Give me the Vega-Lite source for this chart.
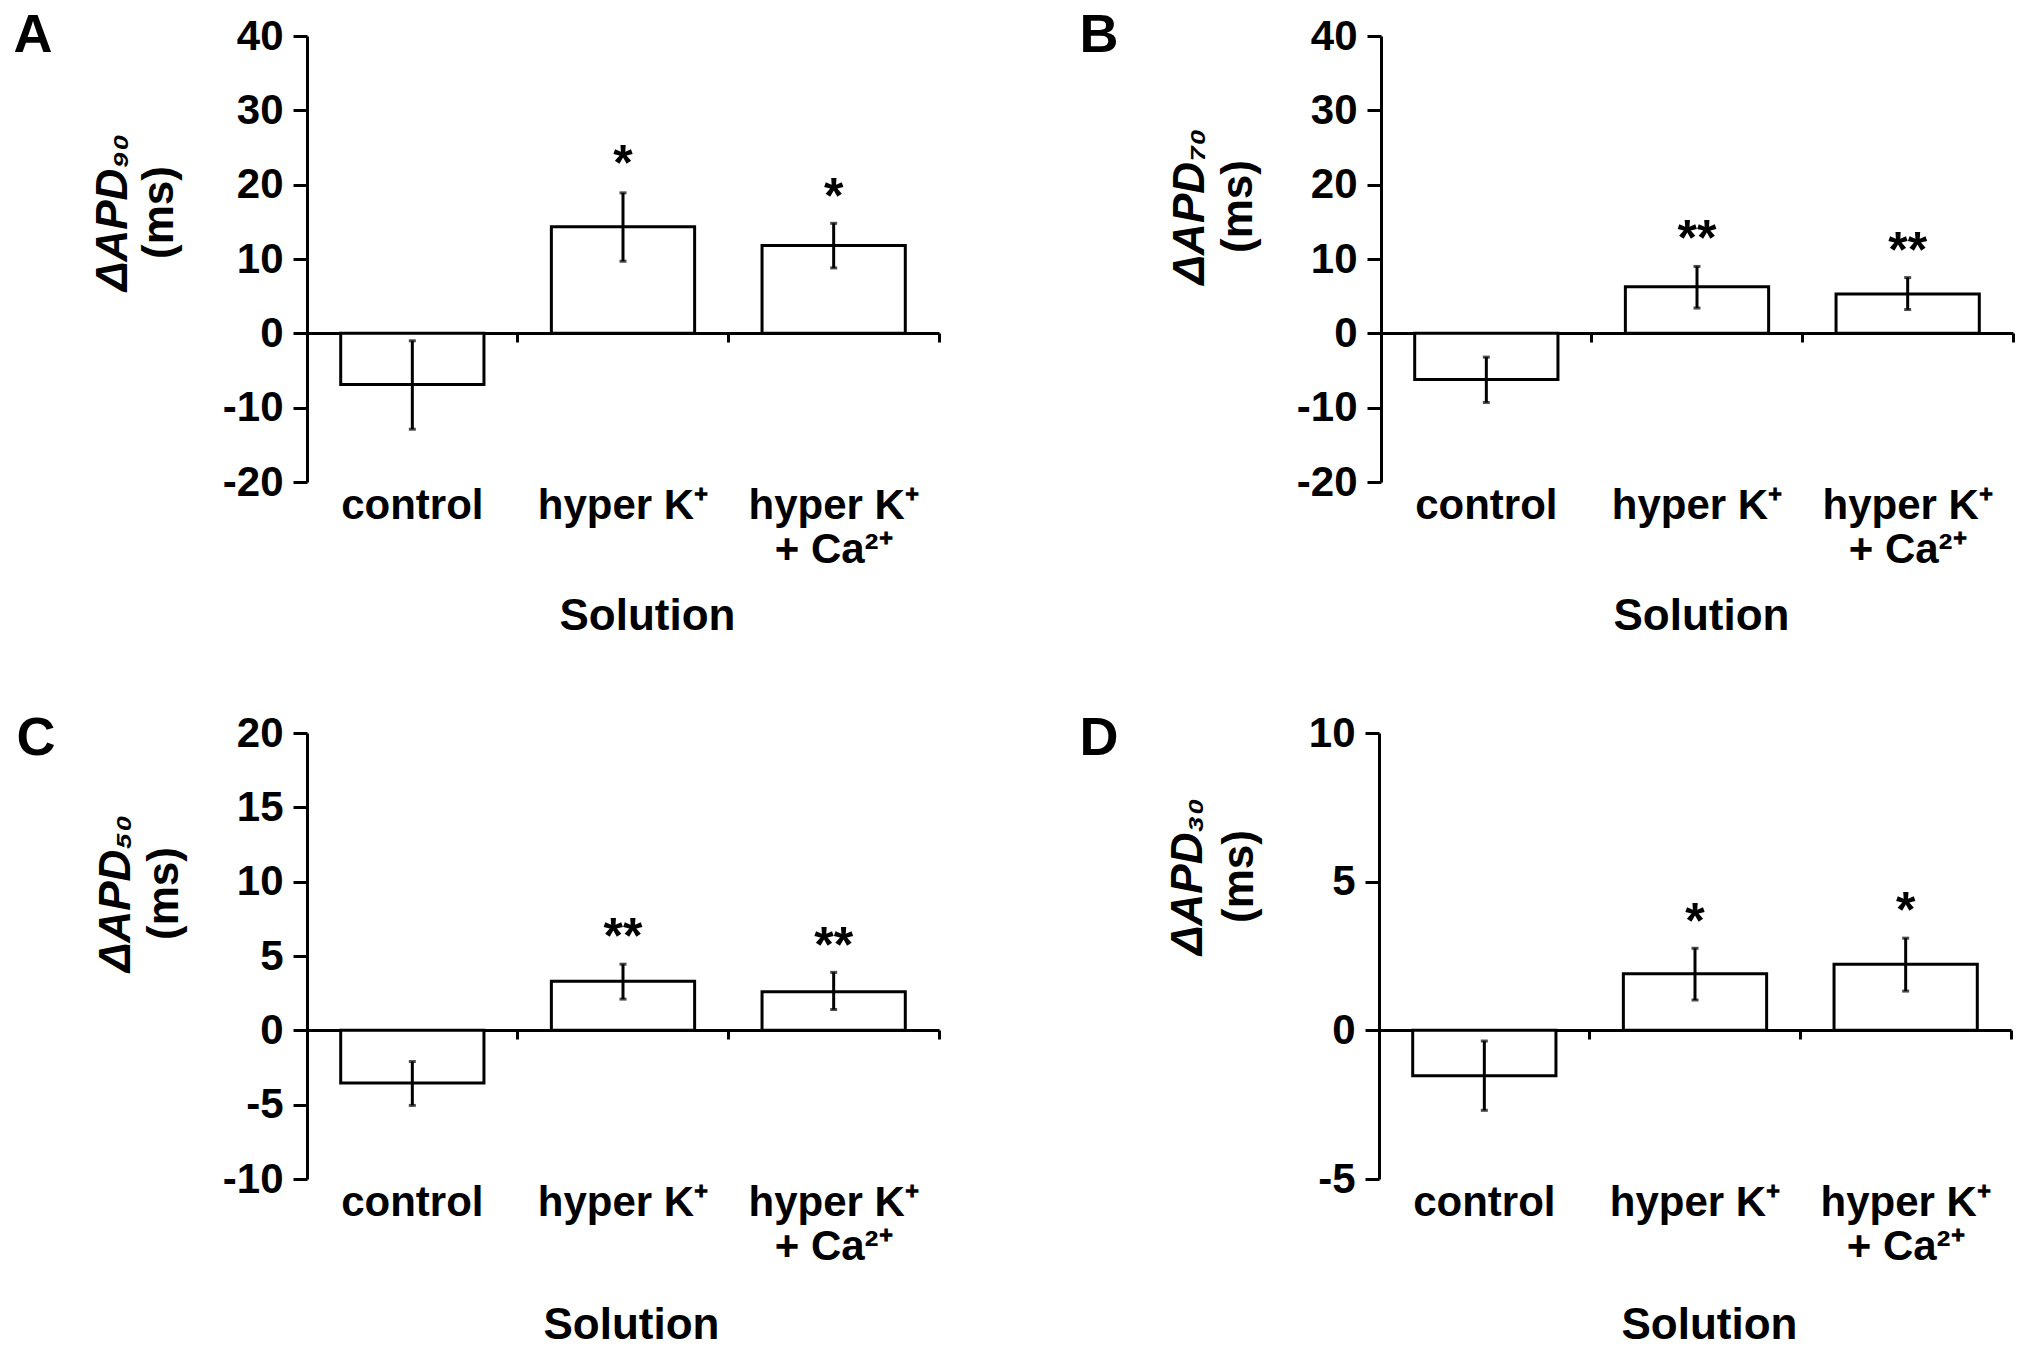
{
  "$schema": "https://vega.github.io/schema/vega-lite/v6.json",
  "background": "white",
  "padding": {"left": 13, "top": 8, "right": 0, "bottom": 0},
  "spacing": 73,
  "config": {
    "view": {"stroke": null},
    "font": "Liberation Sans",
    "axis": {
      "grid": false,
      "domainColor": "black", "domainWidth": 3,
      "tickColor": "black", "tickWidth": 3,
      "labelColor": "black", "labelFont": "Liberation Sans", "labelFontWeight": "bold", "labelFontSize": 42,
      "titleColor": "black", "titleFont": "Liberation Sans", "titleFontWeight": "bold", "titleFontSize": 44
    },
    "axisY": {"tickSize": 14, "labelPadding": 10}
  },
  "vconcat": [
    {
      "spacing": 138,
      "hconcat": [
        {
          "width": 632, "height": 446,
          "data": {"values": [
            {"solution": "control", "mean": -6.9, "lo": -12.9, "hi": -1.0, "sig": "", "star": null},
            {"solution": "hyper K⁺", "mean": 14.35, "lo": 9.7, "hi": 18.9, "sig": "*", "star": 24.2},
            {"solution": "hyper K⁺\n+ Ca²⁺", "mean": 11.8, "lo": 8.8, "hi": 14.8, "sig": "*", "star": 19.8}
          ]},
          "resolve": {"axis": {"x": "independent", "y": "independent"}},
          "layer": [
            {"mark": {"type": "bar", "fill": "white", "stroke": "black", "strokeWidth": 3, "width": {"band": 0.68}},
             "encoding": {
               "x": {"field": "solution", "type": "nominal", "sort": null, "scale": {"paddingInner": 0, "paddingOuter": 0},
                     "axis": {"orient": "bottom", "domain": false, "ticks": false, "labelAngle": 0, "labelExpr": "split(datum.label, '\\n')", "labelPadding": 3, "labelLineHeight": 44, "labelLimit": 0, "title": "Solution", "titleX": 340, "titleY": 147, "titleBaseline": "alphabetic"}},
               "y": {"field": "mean", "type": "quantitative", "scale": {"domain": [-20, 40], "nice": false, "zero": false},
                     "axis": {"orient": "left", "values": [-20, -10, 0, 10, 20, 30, 40], "labelExpr": "replace(datum.label, '−', '-')", "title": "(ms)", "titleX": -135, "titleY": 176, "titleBaseline": "alphabetic", "titleAngle": -90}}
             }},
            {"mark": {"type": "rule", "strokeWidth": 3, "color": "black"},
             "encoding": {
               "x": {"field": "solution", "type": "nominal", "sort": null,
                     "axis": {"orient": "bottom", "labels": false, "domain": true, "ticks": true, "bandPosition": 1, "tickSize": 9, "offset": -149, "title": null}},
               "y": {"field": "lo", "type": "quantitative",
                     "axis": {"orient": "left", "labels": false, "ticks": false, "domain": false, "title": "ΔAPD₉₀", "titleFontStyle": "italic", "titleX": -181, "titleY": 176, "titleBaseline": "alphabetic", "titleAngle": -90}},
               "y2": {"field": "hi"}
             }},
            {"mark": {"type": "tick", "size": 7, "thickness": 3, "color": "black"},
             "encoding": {"x": {"field": "solution", "type": "nominal", "sort": null, "axis": null},
                          "y": {"field": "lo", "type": "quantitative",
                                "axis": {"orient": "left", "labels": false, "ticks": false, "domain": false, "title": "A", "titleFontSize": 54, "titleAngle": 0, "titleAlign": "left", "titleBaseline": "top", "titleX": -294, "titleY": -28}}}},
            {"mark": {"type": "tick", "size": 7, "thickness": 3, "color": "black"},
             "encoding": {"x": {"field": "solution", "type": "nominal", "sort": null, "axis": null}, "y": {"field": "hi", "type": "quantitative", "axis": null}}},
            {"transform": [{"filter": "datum.star != null"}],
             "mark": {"type": "text", "fontSize": 50, "fontWeight": "bold", "font": "Liberation Sans", "color": "black", "baseline": "middle", "dy": 12},
             "encoding": {"x": {"field": "solution", "type": "nominal", "sort": null, "axis": null}, "y": {"field": "star", "type": "quantitative", "axis": null}, "text": {"field": "sig"}}}
          ]
        },
        {
          "width": 632, "height": 446,
          "data": {"values": [
            {"solution": "control", "mean": -6.2, "lo": -9.3, "hi": -3.2, "sig": "", "star": null},
            {"solution": "hyper K⁺", "mean": 6.26, "lo": 3.4, "hi": 9.0, "sig": "**", "star": 14.2},
            {"solution": "hyper K⁺\n+ Ca²⁺", "mean": 5.3, "lo": 3.2, "hi": 7.5, "sig": "**", "star": 12.6}
          ]},
          "resolve": {"axis": {"x": "independent", "y": "independent"}},
          "layer": [
            {"mark": {"type": "bar", "fill": "white", "stroke": "black", "strokeWidth": 3, "width": {"band": 0.68}},
             "encoding": {
               "x": {"field": "solution", "type": "nominal", "sort": null, "scale": {"paddingInner": 0, "paddingOuter": 0},
                     "axis": {"orient": "bottom", "domain": false, "ticks": false, "labelAngle": 0, "labelExpr": "split(datum.label, '\\n')", "labelPadding": 3, "labelLineHeight": 44, "labelLimit": 0, "title": "Solution", "titleX": 320, "titleY": 147, "titleBaseline": "alphabetic"}},
               "y": {"field": "mean", "type": "quantitative", "scale": {"domain": [-20, 40], "nice": false, "zero": false},
                     "axis": {"orient": "left", "values": [-20, -10, 0, 10, 20, 30, 40], "labelExpr": "replace(datum.label, '−', '-')", "title": "(ms)", "titleX": -130, "titleY": 170, "titleBaseline": "alphabetic", "titleAngle": -90}}
             }},
            {"mark": {"type": "rule", "strokeWidth": 3, "color": "black"},
             "encoding": {
               "x": {"field": "solution", "type": "nominal", "sort": null,
                     "axis": {"orient": "bottom", "labels": false, "domain": true, "ticks": true, "bandPosition": 1, "tickSize": 9, "offset": -149, "title": null}},
               "y": {"field": "lo", "type": "quantitative",
                     "axis": {"orient": "left", "labels": false, "ticks": false, "domain": false, "title": "ΔAPD₇₀", "titleFontStyle": "italic", "titleX": -178, "titleY": 170, "titleBaseline": "alphabetic", "titleAngle": -90}},
               "y2": {"field": "hi"}
             }},
            {"mark": {"type": "tick", "size": 7, "thickness": 3, "color": "black"},
             "encoding": {"x": {"field": "solution", "type": "nominal", "sort": null, "axis": null},
                          "y": {"field": "lo", "type": "quantitative",
                                "axis": {"orient": "left", "labels": false, "ticks": false, "domain": false, "title": "B", "titleFontSize": 54, "titleAngle": 0, "titleAlign": "left", "titleBaseline": "top", "titleX": -302, "titleY": -28}}}},
            {"mark": {"type": "tick", "size": 7, "thickness": 3, "color": "black"},
             "encoding": {"x": {"field": "solution", "type": "nominal", "sort": null, "axis": null}, "y": {"field": "hi", "type": "quantitative", "axis": null}}},
            {"transform": [{"filter": "datum.star != null"}],
             "mark": {"type": "text", "fontSize": 50, "fontWeight": "bold", "font": "Liberation Sans", "color": "black", "baseline": "middle", "dy": 12},
             "encoding": {"x": {"field": "solution", "type": "nominal", "sort": null, "axis": null}, "y": {"field": "star", "type": "quantitative", "axis": null}, "text": {"field": "sig"}}}
          ]
        }
      ]
    },
    {
      "spacing": 138,
      "hconcat": [
        {
          "width": 632, "height": 446,
          "data": {"values": [
            {"solution": "control", "mean": -3.55, "lo": -5.05, "hi": -2.1, "sig": "", "star": null},
            {"solution": "hyper K⁺", "mean": 3.3, "lo": 2.1, "hi": 4.45, "sig": "**", "star": 7.05},
            {"solution": "hyper K⁺\n+ Ca²⁺", "mean": 2.6, "lo": 1.4, "hi": 3.9, "sig": "**", "star": 6.4}
          ]},
          "resolve": {"axis": {"x": "independent", "y": "independent"}},
          "layer": [
            {"mark": {"type": "bar", "fill": "white", "stroke": "black", "strokeWidth": 3, "width": {"band": 0.68}},
             "encoding": {
               "x": {"field": "solution", "type": "nominal", "sort": null, "scale": {"paddingInner": 0, "paddingOuter": 0},
                     "axis": {"orient": "bottom", "domain": false, "ticks": false, "labelAngle": 0, "labelExpr": "split(datum.label, '\\n')", "labelPadding": 3, "labelLineHeight": 44, "labelLimit": 0, "title": "Solution", "titleX": 324, "titleY": 159, "titleBaseline": "alphabetic"}},
               "y": {"field": "mean", "type": "quantitative", "scale": {"domain": [-10, 20], "nice": false, "zero": false},
                     "axis": {"orient": "left", "values": [-10, -5, 0, 5, 10, 15, 20], "labelExpr": "replace(datum.label, '−', '-')", "title": "(ms)", "titleX": -130, "titleY": 160, "titleBaseline": "alphabetic", "titleAngle": -90}}
             }},
            {"mark": {"type": "rule", "strokeWidth": 3, "color": "black"},
             "encoding": {
               "x": {"field": "solution", "type": "nominal", "sort": null,
                     "axis": {"orient": "bottom", "labels": false, "domain": true, "ticks": true, "bandPosition": 1, "tickSize": 9, "offset": -149, "title": null}},
               "y": {"field": "lo", "type": "quantitative",
                     "axis": {"orient": "left", "labels": false, "ticks": false, "domain": false, "title": "ΔAPD₅₀", "titleFontStyle": "italic", "titleX": -178, "titleY": 160, "titleBaseline": "alphabetic", "titleAngle": -90}},
               "y2": {"field": "hi"}
             }},
            {"mark": {"type": "tick", "size": 7, "thickness": 3, "color": "black"},
             "encoding": {"x": {"field": "solution", "type": "nominal", "sort": null, "axis": null},
                          "y": {"field": "lo", "type": "quantitative",
                                "axis": {"orient": "left", "labels": false, "ticks": false, "domain": false, "title": "C", "titleFontSize": 54, "titleAngle": 0, "titleAlign": "left", "titleBaseline": "top", "titleX": -291, "titleY": -22}}}},
            {"mark": {"type": "tick", "size": 7, "thickness": 3, "color": "black"},
             "encoding": {"x": {"field": "solution", "type": "nominal", "sort": null, "axis": null}, "y": {"field": "hi", "type": "quantitative", "axis": null}}},
            {"transform": [{"filter": "datum.star != null"}],
             "mark": {"type": "text", "fontSize": 50, "fontWeight": "bold", "font": "Liberation Sans", "color": "black", "baseline": "middle", "dy": 12},
             "encoding": {"x": {"field": "solution", "type": "nominal", "sort": null, "axis": null}, "y": {"field": "star", "type": "quantitative", "axis": null}, "text": {"field": "sig"}}}
          ]
        },
        {
          "width": 632, "height": 446,
          "data": {"values": [
            {"solution": "control", "mean": -1.53, "lo": -2.69, "hi": -0.36, "sig": "", "star": null},
            {"solution": "hyper K⁺", "mean": 1.9, "lo": 1.02, "hi": 2.76, "sig": "*", "star": 4.0},
            {"solution": "hyper K⁺\n+ Ca²⁺", "mean": 2.22, "lo": 1.32, "hi": 3.1, "sig": "*", "star": 4.38}
          ]},
          "resolve": {"axis": {"x": "independent", "y": "independent"}},
          "layer": [
            {"mark": {"type": "bar", "fill": "white", "stroke": "black", "strokeWidth": 3, "width": {"band": 0.68}},
             "encoding": {
               "x": {"field": "solution", "type": "nominal", "sort": null, "scale": {"paddingInner": 0, "paddingOuter": 0},
                     "axis": {"orient": "bottom", "domain": false, "ticks": false, "labelAngle": 0, "labelExpr": "split(datum.label, '\\n')", "labelPadding": 3, "labelLineHeight": 44, "labelLimit": 0, "title": "Solution", "titleX": 330, "titleY": 159, "titleBaseline": "alphabetic"}},
               "y": {"field": "mean", "type": "quantitative", "scale": {"domain": [-5, 10], "nice": false, "zero": false},
                     "axis": {"orient": "left", "values": [-5, 0, 5, 10], "labelExpr": "replace(datum.label, '−', '-')", "title": "(ms)", "titleX": -127, "titleY": 143, "titleBaseline": "alphabetic", "titleAngle": -90}}
             }},
            {"mark": {"type": "rule", "strokeWidth": 3, "color": "black"},
             "encoding": {
               "x": {"field": "solution", "type": "nominal", "sort": null,
                     "axis": {"orient": "bottom", "labels": false, "domain": true, "ticks": true, "bandPosition": 1, "tickSize": 9, "offset": -149, "title": null}},
               "y": {"field": "lo", "type": "quantitative",
                     "axis": {"orient": "left", "labels": false, "ticks": false, "domain": false, "title": "ΔAPD₃₀", "titleFontStyle": "italic", "titleX": -178, "titleY": 143, "titleBaseline": "alphabetic", "titleAngle": -90}},
               "y2": {"field": "hi"}
             }},
            {"mark": {"type": "tick", "size": 7, "thickness": 3, "color": "black"},
             "encoding": {"x": {"field": "solution", "type": "nominal", "sort": null, "axis": null},
                          "y": {"field": "lo", "type": "quantitative",
                                "axis": {"orient": "left", "labels": false, "ticks": false, "domain": false, "title": "D", "titleFontSize": 54, "titleAngle": 0, "titleAlign": "left", "titleBaseline": "top", "titleX": -300, "titleY": -22}}}},
            {"mark": {"type": "tick", "size": 7, "thickness": 3, "color": "black"},
             "encoding": {"x": {"field": "solution", "type": "nominal", "sort": null, "axis": null}, "y": {"field": "hi", "type": "quantitative", "axis": null}}},
            {"transform": [{"filter": "datum.star != null"}],
             "mark": {"type": "text", "fontSize": 50, "fontWeight": "bold", "font": "Liberation Sans", "color": "black", "baseline": "middle", "dy": 12},
             "encoding": {"x": {"field": "solution", "type": "nominal", "sort": null, "axis": null}, "y": {"field": "star", "type": "quantitative", "axis": null}, "text": {"field": "sig"}}}
          ]
        }
      ]
    }
  ]
}
